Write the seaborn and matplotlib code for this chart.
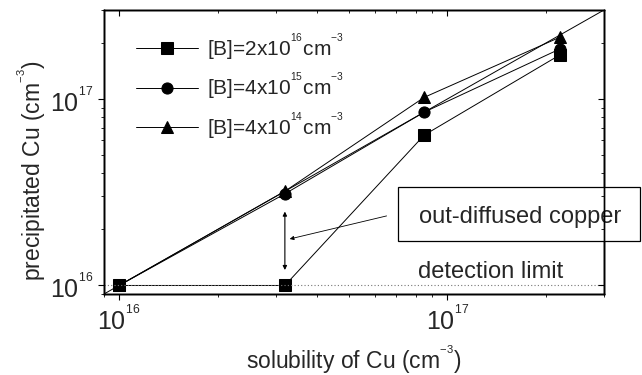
import numpy as np
import pandas as pd
import matplotlib
matplotlib.use("Agg")
import matplotlib.pyplot as plt
import seaborn as sns
from matplotlib.ticker import LogLocator, NullFormatter, FuncFormatter
from matplotlib.patches import Rectangle

# ---- data ----
solubility = [1.0e16, 3.2e16, 8.5e16, 2.21e17]
cu_B2e16 = [1.0e16, 1.0e16, 6.4e16, 1.73e17]
cu_B4e15 = [1.0e16, 3.1e16, 8.5e16, 1.86e17]
cu_B4e14 = [1.0e16, 3.2e16, 1.02e17, 2.15e17]
labels = [r'[B]=2x10$^{{}^{16}}$cm$^{{}^{-3}}$',
          r'[B]=4x10$^{{}^{15}}$cm$^{{}^{-3}}$',
          r'[B]=4x10$^{{}^{14}}$cm$^{{}^{-3}}$']
markers = ['s', 'o', '^']
detection_limit = 1.0e16
lims = [9e15, 3e17]

sns.set_theme(style="ticks")
plt.rcParams['font.family'] = ['Liberation Sans', 'DejaVu Sans']
plt.rcParams['mathtext.fontset'] = 'custom'
plt.rcParams['mathtext.rm'] = 'Liberation Sans'
plt.rcParams['mathtext.it'] = 'Liberation Sans'
plt.rcParams['mathtext.default'] = 'regular'

fig = plt.figure(figsize=(6.42, 3.75), dpi=100)
ax = fig.add_axes([104/642, 1-294/375, 500/642, 284/375])

series = [cu_B2e16, cu_B4e15, cu_B4e14]
for ys, lab, m in zip(series, labels, markers):
    df = pd.DataFrame({'x': solubility, 'y': ys})
    sns.lineplot(data=df, x='x', y='y', ax=ax, color='black', lw=0.7,
                 marker=m, markersize=8, markeredgecolor='black', label=lab)

ax.plot(lims, lims, color='black', lw=0.7)
ax.axhline(detection_limit, ls=(0, (1, 2)), lw=0.8, color='#777777')

ax.set_xscale('log')
ax.set_yscale('log')
ax.set_xlim(lims)
ax.set_ylim(lims)

fmt = FuncFormatter(lambda v, p: r'$10^{{}^{%d}}$' % int(round(np.log10(v))))


def setup_axis(axis, labels_on=True):
    axis.set_major_locator(LogLocator(base=10, numticks=10))
    axis.set_minor_locator(LogLocator(base=10, subs=np.arange(2, 10), numticks=10))
    if labels_on:
        axis.set_major_formatter(fmt)
    else:
        axis.set_major_formatter(NullFormatter())
    axis.set_minor_formatter(NullFormatter())


setup_axis(ax.xaxis)
setup_axis(ax.yaxis)
ax.tick_params(which='both', top=False, right=False, color='black', direction='out')
ax.tick_params(which='major', length=4, width=0.8, labelsize=18, pad=4)
ax.tick_params(which='minor', length=2, width=0.6)
for sp in ax.spines.values():
    sp.set_color('black')
    sp.set_linewidth(1.0)

# mirrored inward ticks on top and right
ax_t = ax.twiny()
ax_t.set_xscale('log')
ax_t.set_xlim(lims)
setup_axis(ax_t.xaxis, labels_on=False)
ax_t.tick_params(which='both', direction='in', color='black')
ax_t.tick_params(which='major', length=4, width=0.8)
ax_t.tick_params(which='minor', length=2, width=0.6)
ax_r = ax.twinx()
ax_r.set_yscale('log')
ax_r.set_ylim(lims)
setup_axis(ax_r.yaxis, labels_on=False)
ax_r.tick_params(which='both', direction='in', color='black')
ax_r.tick_params(which='major', length=4, width=0.8)
ax_r.tick_params(which='minor', length=2, width=0.6)
for a in (ax_t, ax_r):
    for sp in a.spines.values():
        sp.set_color('black')
        sp.set_linewidth(1.0)

ax.set_xlabel(r'solubility of Cu (cm$^{{}^{-3}}$)', fontsize=16.5, labelpad=6)
ax.set_ylabel(r'precipitated Cu (cm$^{{}^{-3}}$)', fontsize=16.5)
ax.yaxis.set_label_coords(-0.112, 0.433)

leg = ax.legend(loc='upper left', frameon=False, fontsize=15, handlelength=3,
                bbox_to_anchor=(0.026, 0.987), labelspacing=0.45, handletextpad=0.4)

# annotations
ax.annotate('', xy=(3.2e16, 2.49e16), xytext=(3.2e16, 1.21e16),
            arrowprops=dict(arrowstyle='<|-|>', color='black', lw=0.8,
                            mutation_scale=6, shrinkA=0, shrinkB=0))
ax.annotate('', xy=(3.31e16, 1.775e16), xytext=(6.53e16, 2.36e16),
            arrowprops=dict(arrowstyle='-|>', color='black', lw=0.6,
                            mutation_scale=6, shrinkA=0, shrinkB=0))
box = Rectangle((0.588, 0.187), 0.484, 0.19, transform=ax.transAxes,
                fc='white', ec='black', lw=0.9, clip_on=False, zorder=5)
ax.add_patch(box)
ax.text(0.832, 0.272, 'out-diffused copper', transform=ax.transAxes, fontsize=17,
        ha='center', va='center', clip_on=False, zorder=6)
ax.text(0.774, 0.079, 'detection limit', transform=ax.transAxes, fontsize=17,
        ha='center', va='center')

fig.savefig('out.png', dpi=100)
